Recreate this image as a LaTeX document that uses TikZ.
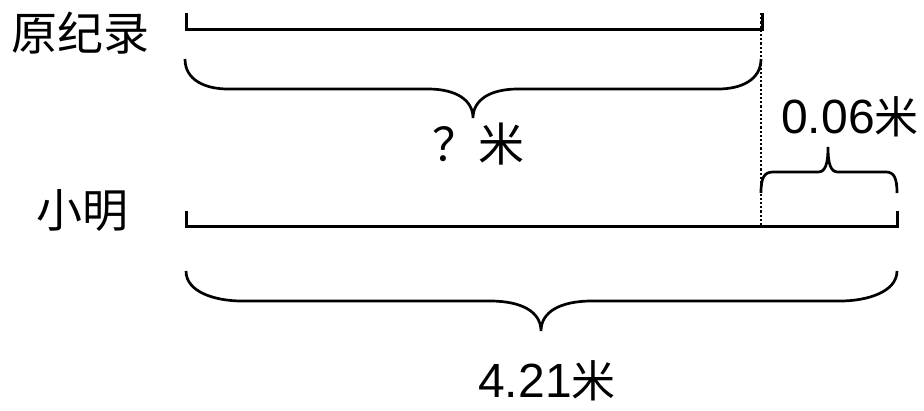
\documentclass[tikz,border=0pt]{standalone}
\usepackage{fontspec}
\setmainfont{Liberation Sans}
\newfontfamily\cjk{Noto Sans CJK SC}
\begin{document}
\begin{tikzpicture}[x=1pt,y=-1pt,
  lbl/.style={inner sep=0pt,anchor=base,font=\cjk\fontsize{46}{50}\selectfont},
  num/.style={inner sep=0pt,anchor=base,text depth=0pt,font=\fontsize{48}{52}\selectfont},
  seg/.style={line width=3pt,line join=miter},
  brc/.style={line width=2.7pt},
  dots/.style={line width=2.4pt,dash pattern=on 2.2pt off 2pt}]
\useasboundingbox (0,0) rectangle (924,410);
% coordinates
\coordinate (tl) at (186,13);
\coordinate (tr) at (762,13);
\coordinate (bl) at (186,211);
\coordinate (br) at (897,211);
\coordinate (dtop) at (761,13);
\coordinate (dbot) at (761,226);
% labels
\node[lbl] (orig) at (81,50) {原纪录};
\node[lbl] (xm) at (82,227) {小明};
\node[lbl] (q) at (478,161) {？米};
\node[num] (d6) at (850,133) {0.06{\cjk\fontsize{44}{48}\selectfont 米}};
\node[num] (d421) at (547,397) {4.21{\cjk\fontsize{44}{48}\selectfont 米}};
% segments
\draw[seg] (tl) |- (762,29) -- (tr);
\draw[seg] (bl) |- (897,226) -- (br);
\draw[dots] (dtop) -- (dbot);
% top brace
\draw[brc] (185,59) .. controls (185,80) and (205,89) .. (228,89) -- (428,89)
  .. controls (456,89) and (473,100) .. (473,118)
  .. controls (473,100) and (490,89) .. (518,89) -- (718,89)
  .. controls (741,89) and (761,80) .. (761,59);
% bottom brace
\draw[brc] (186,271) .. controls (186,292) and (215,301) .. (242,301) -- (490,301)
  .. controls (522,301) and (541,312) .. (541,331)
  .. controls (541,312) and (560,301) .. (592,301) -- (840,301)
  .. controls (867,301) and (897,292) .. (897,271);
% small brace
\draw[brc] (761,193) .. controls (761,178) and (764,172) .. (773,172) -- (818,172)
  .. controls (825,172) and (828,165) .. (828,147)
  .. controls (828,165) and (831,172) .. (838,172) -- (886,172)
  .. controls (894,172) and (897,178) .. (897,193);
\end{tikzpicture}
\end{document}
